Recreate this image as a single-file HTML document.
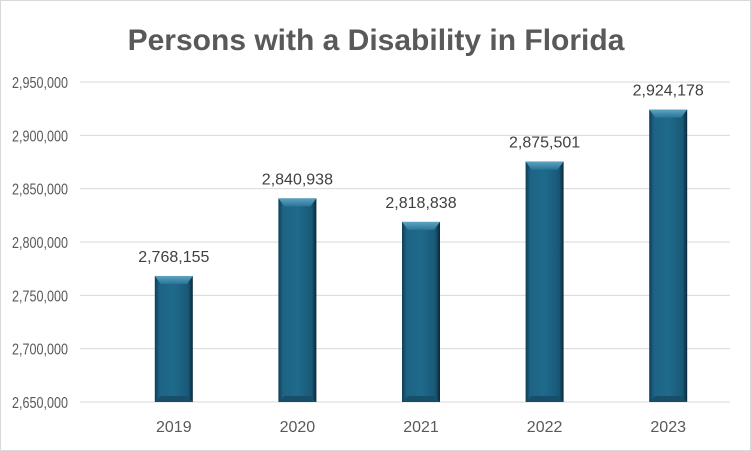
<!DOCTYPE html>
<html><head><meta charset="utf-8"><style>
body{margin:0;background:#fff}
svg{display:block;font-family:"Liberation Sans",sans-serif}
</style></head><body>
<svg id="chart" width="751" height="451" viewBox="0 0 751 451">
<defs>
<linearGradient id="gh" x1="0" x2="1" y1="0" y2="0">
<stop offset="0" stop-color="#0f3d57"/><stop offset="0.12" stop-color="#1d6384"/><stop offset="0.5" stop-color="#1f6a8c"/><stop offset="0.88" stop-color="#195877"/><stop offset="1" stop-color="#0a2838"/>
</linearGradient>
<linearGradient id="gt" x1="0" x2="0" y1="0" y2="1">
<stop offset="0" stop-color="#5fa3c2"/><stop offset="1" stop-color="#2a7598"/>
</linearGradient>
</defs>
<rect x="0.5" y="0.5" width="750" height="450" fill="#fff" stroke="#d9d9d9"/>
<text x="376" y="50" text-anchor="middle" font-size="30" font-weight="bold" fill="#595959">Persons with a Disability in Florida</text>
<g id="grid"></g><g id="bars"></g>
</svg>
<script>
const categories=['2019','2020','2021','2022','2023'];
const values=[2768155,2840938,2818838,2875501,2924178];
const labels=['2,768,155','2,840,938','2,818,838','2,875,501','2,924,178'];
const ticks=[2650000,2700000,2750000,2800000,2850000,2900000,2950000];
const tickLabels=['2,650,000','2,700,000','2,750,000','2,800,000','2,850,000','2,900,000','2,950,000'];
const NS='http://www.w3.org/2000/svg';
const y0=402,y1=82,vmin=2650000,vmax=2950000;
const y=v=>y0-(v-vmin)/(vmax-vmin)*(y0-y1);
const left=112,step=123.6,bw=38;
const x=i=>left+step*(i+0.5);
function mk(t,a,p){const e=document.createElementNS(NS,t);for(const k in a)e.setAttribute(k,a[k]);p.appendChild(e);return e;}
const g=document.getElementById('grid'),b=document.getElementById('bars');
ticks.forEach((t,i)=>{
 const l=mk('line',{x1:80,x2:730,y1:y(t),y2:y(t),stroke:'#d9d9d9','stroke-width':1},g);
 
 
 const tx=mk('text',{x:68,y:y(t)+6,'text-anchor':'end','font-size':16,textLength:56,lengthAdjust:'spacingAndGlyphs',fill:'#595959'},g);
 tx.textContent=tickLabels[i];
 
 
});
categories.forEach((c,i)=>{
 const cx=x(i),top=y(values[i]),bx=cx-bw/2,h=y0-top;
 const r=mk('rect',{x:bx,y:top,width:bw,height:h,fill:'url(#gh)'},b);
 
 
 const bev=mk('polygon',{points:`${bx},${top} ${bx+bw},${top} ${bx+bw-6},${top+8} ${bx+6},${top+8}`,fill:'url(#gt)'},b);
 
 
 const bb=mk('polygon',{points:`${bx},${y0} ${bx+bw},${y0} ${bx+bw-6},${y0-6} ${bx+6},${y0-6}`,fill:'#174f6b'},b);
 
 
 const lt=mk('text',{x:cx,y:top-14,'text-anchor':'middle','font-size':16,fill:'#404040'},b);
 lt.textContent=labels[i];
 
 
 const ct=mk('text',{x:cx,y:432,'text-anchor':'middle','font-size':16,fill:'#595959'},b);
 ct.textContent=c;
 
 
});
</script>
</body></html>
